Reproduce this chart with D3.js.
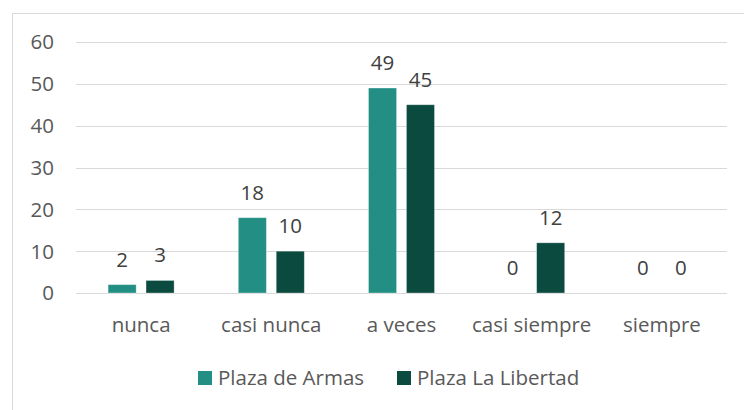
<!DOCTYPE html>
<html>
<head>
<meta charset="utf-8">
<script src="https://cdn.jsdelivr.net/npm/d3@7"></script>
<style>
  body { margin: 0; background: #fff; }
  svg text { font-family: "Open Sans", sans-serif; }
</style>
</head>
<body>
<svg id="chart" width="744" height="410"></svg>
<script>
// chart data
var categories = ['nunca', 'casi nunca', 'a veces', 'casi siempre', 'siempre'];
var seriesNames = ['Plaza de Armas', 'Plaza La Libertad'];
var plazaArmas = [2, 18, 49, 0, 0];
var plazaLibertad = [3, 10, 45, 12, 0];
var yTicks = [0, 10, 20, 30, 40, 50, 60];
var colors = ['#238f84', '#0b4a3e'];

var fontSize = 20.5;
var svg = d3.select('#chart');

// outer frame (chart area border)
svg.append('rect')
    .attr('x', 12.5).attr('y', 13.5)
    .attr('width', 760).attr('height', 420)
    .attr('fill', 'none')
    .attr('stroke', '#d9d9d9');

var x = d3.scaleBand().domain(categories).range([76, 727]);
var y = d3.scaleLinear().domain([0, 60]).range([293, 42]);
var x1 = d3.scaleBand().domain(seriesNames).range([0, 66]).paddingInner(0.26);

// gridlines
svg.append('g')
    .selectAll('line')
    .data(yTicks)
    .enter()
    .append('line')
    .attr('x1', 76).attr('x2', 727)
    .attr('y1', function(d){ return Math.round(y(d)) + 0.5; })
    .attr('y2', function(d){ return Math.round(y(d)) + 0.5; })
    .attr('stroke', '#d9d9d9')
    .attr('stroke-width', 1.2);

// y axis labels
var yAxis = d3.axisLeft(y).tickValues(yTicks).tickSize(0).tickPadding(0);
var gy = svg.append('g').attr('transform', 'translate(54,0)').call(yAxis);
gy.select('.domain').remove();
gy.selectAll('text')
    .attr('font-size', fontSize)
    .attr('fill', '#595959')
    .attr('dy', '0.34em')
    .style('font-family', '"Open Sans", sans-serif');

// x axis labels
var xAxis = d3.axisBottom(x).tickSize(0).tickPadding(0);
var gx = svg.append('g').attr('transform', 'translate(0,332)').call(xAxis);
gx.select('.domain').remove();
gx.selectAll('text')
    .attr('font-size', fontSize)
    .attr('fill', '#595959')
    .attr('y', 0)
    .attr('dy', 0)
    .style('font-family', '"Open Sans", sans-serif');

// bars
var rows = categories.map(function(c, i){
  return {cat: c, values: [
    {name: seriesNames[0], value: plazaArmas[i]},
    {name: seriesNames[1], value: plazaLibertad[i]}
  ]};
});

var groups = svg.append('g')
    .selectAll('g')
    .data(rows)
    .enter()
    .append('g')
    .attr('transform', function(d){ return 'translate(' + (x(d.cat) + x.bandwidth() / 2 - 33) + ',0)'; });

groups.selectAll('rect')
    .data(function(d){ return d.values; })
    .enter()
    .append('rect')
    .attr('x', function(d){ return x1(d.name); })
    .attr('width', x1.bandwidth())
    .attr('y', function(d){ return y(d.value); })
    .attr('height', function(d){ return y(0) - y(d.value); })
    .attr('fill', function(d, i){ return colors[i]; })
    .attr('stroke', function(d){ return d.value > 0 ? '#ffffff' : 'none'; })
    .attr('stroke-opacity', 0.4)
    .attr('stroke-width', 0.8);

// value labels
groups.selectAll('text')
    .data(function(d){ return d.values; })
    .enter()
    .append('text')
    .attr('x', function(d){ return x1(d.name) + x1.bandwidth() / 2; })
    .attr('y', function(d){ return y(d.value) - 18; })
    .attr('text-anchor', 'middle')
    .attr('font-size', fontSize)
    .attr('fill', '#404040')
    .text(function(d){ return d.value; });

// legend
var legendX = [198, 397];
var legend = svg.append('g')
    .selectAll('g')
    .data(seriesNames)
    .enter()
    .append('g')
    .attr('transform', function(d, i){ return 'translate(' + legendX[i] + ',371)'; });

legend.append('rect')
    .attr('width', 14).attr('height', 14)
    .attr('fill', function(d, i){ return colors[i]; });

legend.append('text')
    .attr('x', 20).attr('y', 13.5)
    .attr('font-size', fontSize)
    .attr('fill', '#595959')
    .text(function(d){ return d; });
</script>
</body>
</html>
